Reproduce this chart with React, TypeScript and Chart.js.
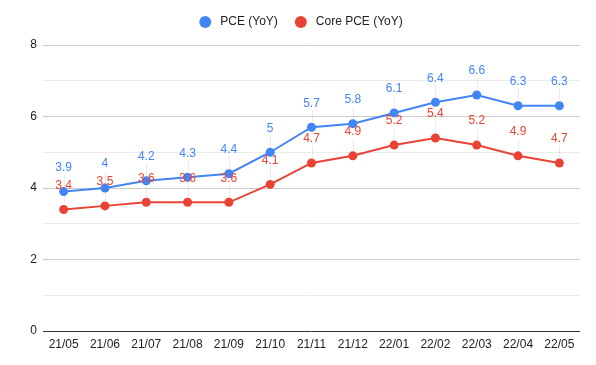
import React, { useEffect, useRef } from "react";
import { Chart, registerables } from "chart.js";

Chart.register(...registerables);

const categories = ["21/05", "21/06", "21/07", "21/08", "21/09", "21/10", "21/11", "21/12", "22/01", "22/02", "22/03", "22/04", "22/05"];
const pceValues = [3.9, 4, 4.2, 4.3, 4.4, 5, 5.7, 5.8, 6.1, 6.4, 6.6, 6.3, 6.3];
const corePceValues = [3.4, 3.5, 3.6, 3.6, 3.6, 4.1, 4.7, 4.9, 5.2, 5.4, 5.2, 4.9, 4.7];
const seriesNames = ["PCE (YoY)", "Core PCE (YoY)"];
const seriesColors = ["#4285F4", "#EA4335"];
const yMin = 0;
const yMax = 8;

const FONT = "Arial, 'Liberation Sans', sans-serif";

const labelsPlugin = {
  id: "valueLabels",
  afterDatasetsDraw(chart: any) {
    const ctx = chart.ctx;
    ctx.save();
    chart.data.datasets.forEach((ds: any, i: number) => {
      const meta = chart.getDatasetMeta(i);
      meta.data.forEach((pt: any) => {
        ctx.strokeStyle = "rgba(0,0,0,0.08)";
        ctx.lineWidth = 1;
        ctx.beginPath();
        ctx.moveTo(Math.round(pt.x) + 0.5, pt.y - 5);
        ctx.lineTo(Math.round(pt.x) + 0.5, pt.y - 17);
        ctx.stroke();
      });
    });
    chart.data.datasets.forEach((ds: any, i: number) => {
      const meta = chart.getDatasetMeta(i);
      ctx.fillStyle = ds.borderColor;
      ctx.font = `12px ${FONT}`;
      ctx.textAlign = "center";
      ctx.textBaseline = "middle";
      meta.data.forEach((pt: any, j: number) => {
        ctx.fillText(String(ds.data[j]), pt.x, pt.y - 24);
      });
    });
    ctx.restore();
  },
};

const legendPlugin = {
  id: "customLegend",
  afterDraw(chart: any) {
    const ctx = chart.ctx;
    ctx.save();
    ctx.font = `12px ${FONT}`;
    ctx.textBaseline = "middle";
    ctx.textAlign = "left";
    const r = 6;
    const gapAfterDot = 9;
    const gapBetween = 17;
    const widths = seriesNames.map((n) => 2 * r + gapAfterDot + ctx.measureText(n).width);
    const total = widths.reduce((a, b) => a + b, 0) + gapBetween * (seriesNames.length - 1);
    let x = 301 - total / 2;
    const y = 22;
    seriesNames.forEach((n, i) => {
      ctx.fillStyle = seriesColors[i];
      ctx.beginPath();
      ctx.arc(x + r, y, r, 0, Math.PI * 2);
      ctx.fill();
      ctx.fillStyle = "#222";
      ctx.fillText(n, x + 2 * r + gapAfterDot, y);
      x += widths[i] + gapBetween;
    });
    ctx.restore();
  },
};

export default function App() {
  const ref = useRef<HTMLCanvasElement | null>(null);
  useEffect(() => {
    document.body.style.margin = "0";
    const chart = new Chart(ref.current as HTMLCanvasElement, {
      type: "line",
      data: {
        labels: categories,
        datasets: [
          {
            label: seriesNames[0],
            data: pceValues,
            borderColor: seriesColors[0],
            backgroundColor: seriesColors[0],
            borderWidth: 2,
            pointRadius: 4.5,
            pointBorderWidth: 0,
            tension: 0,
          },
          {
            label: seriesNames[1],
            data: corePceValues,
            borderColor: seriesColors[1],
            backgroundColor: seriesColors[1],
            borderWidth: 2,
            pointRadius: 4.5,
            pointBorderWidth: 0,
            tension: 0,
          },
        ],
      },
      options: {
        responsive: false,
        animation: false,
        layout: { padding: { top: 45, right: 16, left: 0, bottom: 0 } },
        plugins: {
          legend: { display: false },
          tooltip: { enabled: false },
        },
        scales: {
          x: {
            offset: true,
            grid: { display: false, drawTicks: false },
            border: { display: false },
            ticks: {
              color: "#222",
              font: { size: 12, family: FONT },
              padding: 6,
              maxRotation: 0,
              autoSkip: false,
            },
            afterFit: (s: any) => {
              s.height = 34;
            },
          },
          y: {
            min: yMin,
            max: yMax,
            border: { display: false },
            grid: {
              color: (c: any) => {
                const v = c.tick ? c.tick.value : 0;
                if (v === 0) return "#333333";
                if (v % 2 !== 0) return "#ebebeb";
                return "#cccccc";
              },
              lineWidth: 1,
              drawTicks: false,
            },
            ticks: {
              stepSize: 1,
              color: "#222",
              font: { size: 12, family: FONT },
              padding: 6,
              callback: (v: any) => (Number(v) % 2 === 0 ? String(v) : ""),
            },
            afterFit: (s: any) => {
              s.width = 43;
            },
          },
        },
      },
      plugins: [labelsPlugin, legendPlugin],
    } as any);
    return () => chart.destroy();
  }, []);
  return (
    <div style={{ position: "absolute", left: 0, top: 0, width: 596, height: 365, background: "#fff" }}>
      <canvas ref={ref} width={596} height={365} style={{ width: 596, height: 365 }} />
    </div>
  );
}
